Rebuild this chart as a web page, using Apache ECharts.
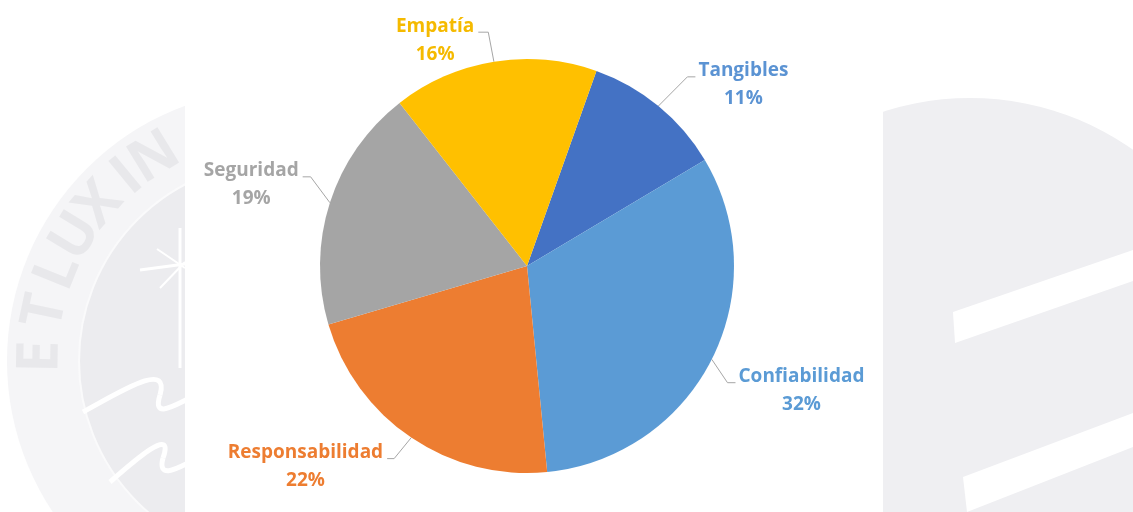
<!DOCTYPE html>
<html>
<head>
<meta charset="utf-8">
<script src="https://cdn.jsdelivr.net/npm/echarts@6/dist/echarts.min.js"></script>
<style>
  html, body { margin: 0; padding: 0; background: #ffffff; }
  #chart { width: 1133px; height: 512px; }
</style>
</head>
<body>
<div id="chart"></div>
<script>
// Service-quality dimensions and their share of the total (%)
const categories = ['Tangibles', 'Confiabilidad', 'Responsabilidad', 'Seguridad', 'Empatía'];
const shares = [11, 32, 22, 19, 16];
const sliceColors = ['#4472C4', '#5B9BD5', '#ED7D31', '#A5A5A5', '#FFC000'];
const labelColors = ['#5B93D3', '#5B9BD5', '#ED7D31', '#A5A5A5', '#F5BA00'];

// Pie geometry
const CENTER = [527, 266];
const RADIUS = 207;
const START_ANGLE = 70.4;

// Leader line shape per slice: [elbow angle shift (deg, clockwise), elbow distance past rim, horizontal tail]
const leaderShape = [[0.9, 41, 8], [3.4, 25, 8], [0.6, 27, 7], [4.6, 27, 8], [-0.2, 30, 10]];

const total = shares.reduce((a, b) => a + b, 0);
const midAngles = [];
let acc = 0;
shares.forEach(v => {
  midAngles.push(START_ANGLE - (acc + v / 2) / total * 360);
  acc += v;
});

function polar(r, deg) {
  const a = deg * Math.PI / 180;
  return [CENTER[0] + r * Math.cos(a), CENTER[1] - r * Math.sin(a)];
}

// Faint university seal behind the left margin
const sealC = [279, 361];
const motto = [['E', 181], ['T', 192], ['L', 202], ['U', 211.5], ['X', 221], ['I', 230.5], ['N', 238.5]];
const sealLetters = motto.map(([ch, ang]) => {
  const a = ang * Math.PI / 180;
  return {
    type: 'text', z: 2,
    x: sealC[0] + 238 * Math.cos(a),
    y: sealC[1] + 238 * Math.sin(a),
    rotation: (270 - ang) * Math.PI / 180,
    style: { text: ch, fontSize: 58, fontWeight: 'bold', fontFamily: 'Open Sans',
             fill: '#e8e8eb', align: 'center', verticalAlign: 'middle' }
  };
});

const watermark = [
  { type: 'circle', z: 1, shape: { cx: sealC[0], cy: sealC[1], r: 272 }, style: { fill: '#f5f5f7' } },
  { type: 'circle', z: 1, shape: { cx: sealC[0], cy: sealC[1], r: 200 }, style: { fill: '#ececef', stroke: '#fafafb', lineWidth: 2 } },
  ...sealLetters,
  { type: 'line', z: 2, shape: { x1: 180, y1: 228, x2: 180, y2: 368 }, style: { stroke: '#ffffff', lineWidth: 3 } },
  { type: 'line', z: 2, shape: { x1: 140, y1: 270, x2: 185, y2: 264 }, style: { stroke: '#ffffff', lineWidth: 3 } },
  { type: 'line', z: 2, shape: { x1: 157, y1: 249, x2: 185, y2: 268 }, style: { stroke: '#ffffff', lineWidth: 2 } },
  { type: 'line', z: 2, shape: { x1: 160, y1: 288, x2: 185, y2: 262 }, style: { stroke: '#ffffff', lineWidth: 2 } },
  { type: 'bezierCurve', z: 2, shape: { x1: 83, y1: 412, cpx1: 120, cpy1: 392, cpx2: 170, cpy2: 360, x2: 160, y2: 395 },
    style: { stroke: '#ffffff', lineWidth: 5, fill: null } },
  { type: 'bezierCurve', z: 2, shape: { x1: 160, y1: 395, cpx1: 152, cpy1: 420, cpx2: 175, cpy2: 405, x2: 190, y2: 398 },
    style: { stroke: '#ffffff', lineWidth: 5, fill: null } },
  { type: 'bezierCurve', z: 2, shape: { x1: 110, y1: 482, cpx1: 135, cpy1: 460, cpx2: 175, cpy2: 425, x2: 163, y2: 458 },
    style: { stroke: '#ffffff', lineWidth: 5, fill: null } },
  { type: 'bezierCurve', z: 2, shape: { x1: 163, y1: 458, cpx1: 157, cpy1: 480, cpx2: 178, cpy2: 468, x2: 190, y2: 462 },
    style: { stroke: '#ffffff', lineWidth: 5, fill: null } },
  // Right margin: part of the seal's shield
  { type: 'circle', z: 1, shape: { cx: 970, cy: 381, r: 283 }, style: { fill: '#efeff2' } },
  { type: 'polygon', z: 2, shape: { points: [[953, 312], [1133, 250], [1133, 281], [955, 343]] }, style: { fill: '#ffffff' } },
  { type: 'polygon', z: 2, shape: { points: [[963, 477], [1133, 413], [1133, 447], [967, 512]] }, style: { fill: '#ffffff' } },
  // White panel that holds the chart
  { type: 'rect', z: 3, shape: { x: 185, y: 0, width: 698, height: 512 }, style: { fill: '#ffffff' } }
];

const chart = echarts.init(document.getElementById('chart'), null, { renderer: 'canvas' });

chart.setOption({
  backgroundColor: '#ffffff',
  animation: false,
  graphic: { elements: watermark },
  series: [{
    type: 'pie',
    z: 10,
    center: CENTER,
    radius: RADIUS,
    startAngle: START_ANGLE,
    clockwise: true,
    avoidLabelOverlap: false,
    itemStyle: { borderWidth: 0 },
    label: {
      show: true,
      position: 'outside',
      alignTo: 'none',
      formatter: p => '{n|' + p.name + '}\n{v|' + p.value + '%}',
      rich: {
        n: { fontFamily: 'Open Sans', fontWeight: 'bold', fontSize: 19, lineHeight: 28, align: 'center' },
        v: { fontFamily: 'Open Sans', fontWeight: 'bold', fontSize: 19, lineHeight: 28, align: 'center' }
      }
    },
    labelLine: {
      show: true, length: 25, length2: 8, smooth: false,
      lineStyle: { color: '#A6A6A6', width: 1 }
    },
    labelLayout: params => {
      const i = params.dataIndex;
      const [shift, ext, tail] = leaderShape[i];
      const rim = polar(RADIUS, midAngles[i]);
      const elbow = polar(RADIUS + ext, midAngles[i] - shift);
      const left = elbow[0] < CENTER[0];
      const end = [elbow[0] + (left ? -tail : tail), elbow[1]];
      return {
        x: end[0] + (left ? -4 : 3),
        y: end[1] + 8,
        align: left ? 'right' : 'left',
        verticalAlign: 'middle',
        labelLinePoints: [rim, elbow, end]
      };
    },
    data: categories.map((name, i) => ({
      name,
      value: shares[i],
      itemStyle: { color: sliceColors[i] },
      label: { color: labelColors[i] }
    }))
  }]
});
</script>
</body>
</html>
